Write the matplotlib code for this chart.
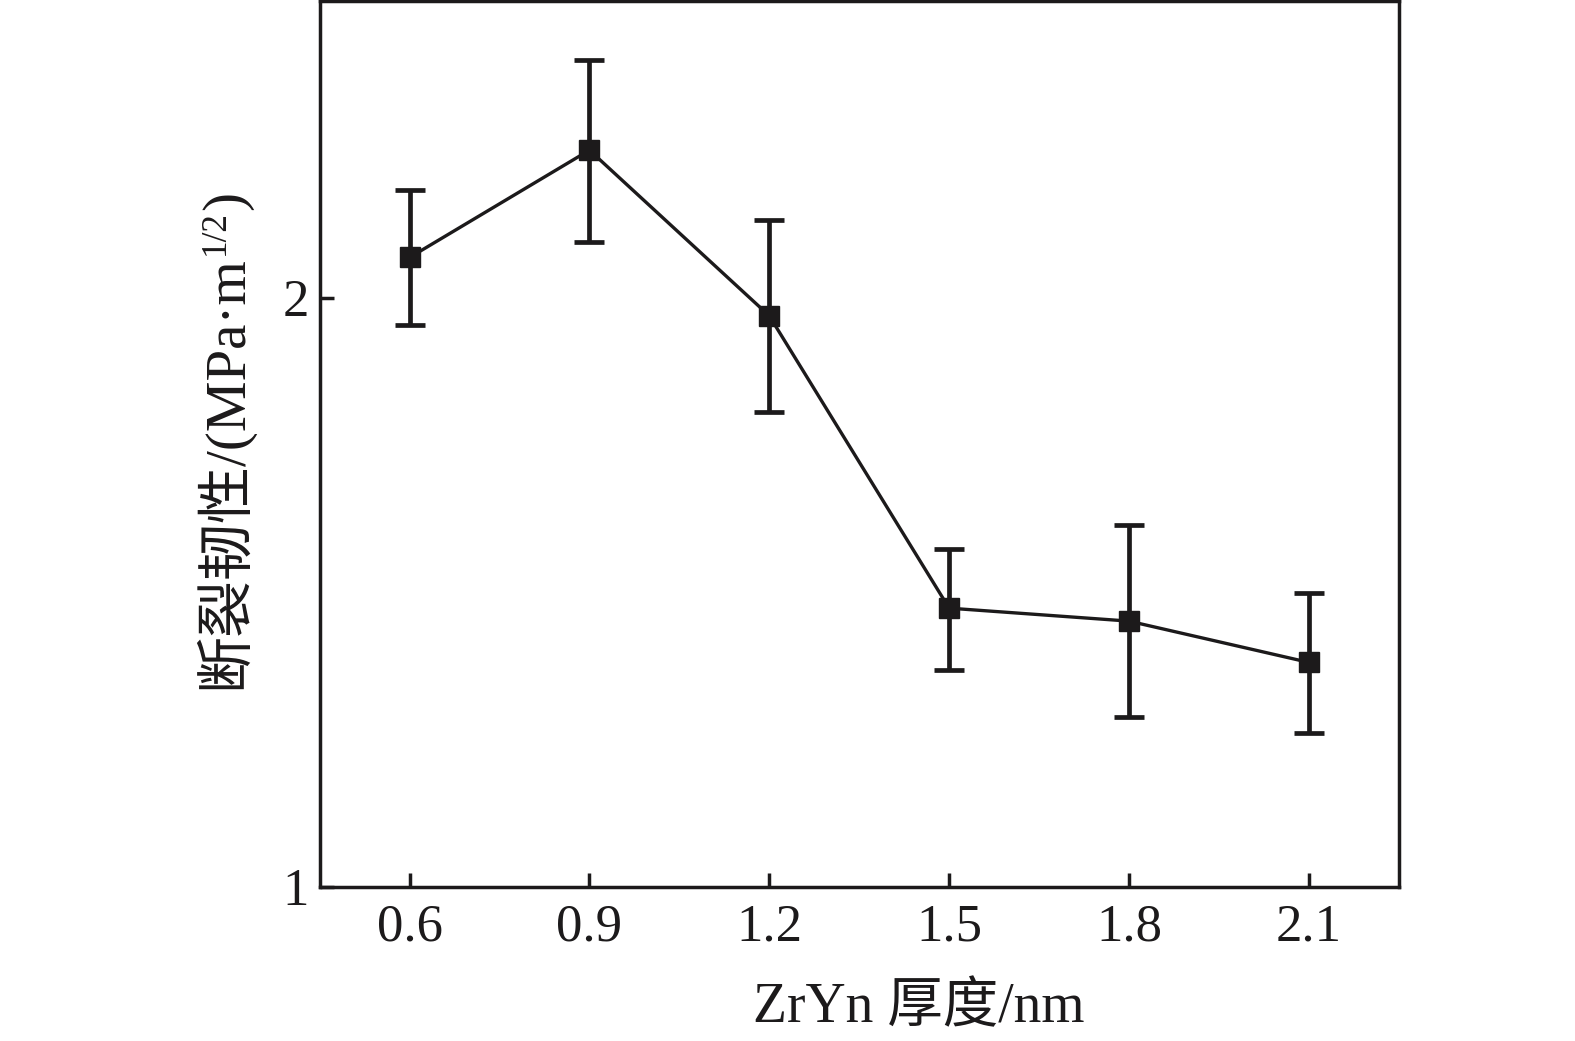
import matplotlib.pyplot as plt

# ZrYn layer thickness (nm) vs fracture toughness
thickness = [0.6, 0.9, 1.2, 1.5, 1.8, 2.1]
toughness = [2.068, 2.250, 1.969, 1.473, 1.451, 1.381]
err_up = [0.114, 0.153, 0.163, 0.101, 0.163, 0.117]
err_down = [0.114, 0.156, 0.163, 0.105, 0.163, 0.119]
xticks = [0.6, 0.9, 1.2, 1.5, 1.8, 2.1]
yticks = [1, 2]

plt.rcParams['font.family'] = ['Liberation Serif', 'Noto Sans CJK SC']

ink = '#1c1a1b'
W, H = 1575, 1041

fig = plt.figure(figsize=(W / 100, H / 100), dpi=100)
ax = fig.add_axes([0.203, 0.148, 0.685, 0.851])

ax.errorbar(thickness, toughness, yerr=[err_down, err_up], fmt='s-',
            color=ink, ecolor=ink, markersize=14, linewidth=2.4,
            elinewidth=3.4, capsize=11, capthick=3.4)

ax.set_xlim(0.45, 2.25)
ax.set_ylim(1.0, 2.503)
ax.set_xticks(xticks)
ax.set_xticklabels([f"{t:.1f}" for t in xticks])
ax.set_yticks(yticks)
ax.set_yticklabels([str(t) for t in yticks])

ax.tick_params(direction='in', length=10, width=2.5, labelsize=38,
               colors=ink, pad=12)
ax.tick_params(axis='y', pad=8)
for s in ax.spines.values():
    s.set_linewidth(2.5)
    s.set_color(ink)

ax.set_xlabel("ZrYn 厚度/nm", fontsize=40, color=ink, labelpad=22, x=0.555)

# y label built from pieces so the superscript keeps CJK + serif fonts
fs = 41
base_x = 241          # baseline position in pixels
center_y = 440        # centre of label in pixels (from top)
pieces = [("断裂韧性/(MPa·m", fs, 0), ("1/2", fs * 0.62, 17), (")", fs, 0)]
texts = []
for s, size, shift in pieces:
    t = fig.text((base_x - shift) / W, 0.5, s, fontsize=size, color=ink,
                 rotation=90, rotation_mode='anchor', ha='left', va='baseline')
    texts.append(t)
r = fig.canvas.get_renderer()
lengths = [t.get_window_extent(r).height for t in texts]
y = (H - center_y) - sum(lengths) / 2
for t, L in zip(texts, lengths):
    t.set_y(y / H)
    y += L

fig.savefig("out.png", dpi=100)
